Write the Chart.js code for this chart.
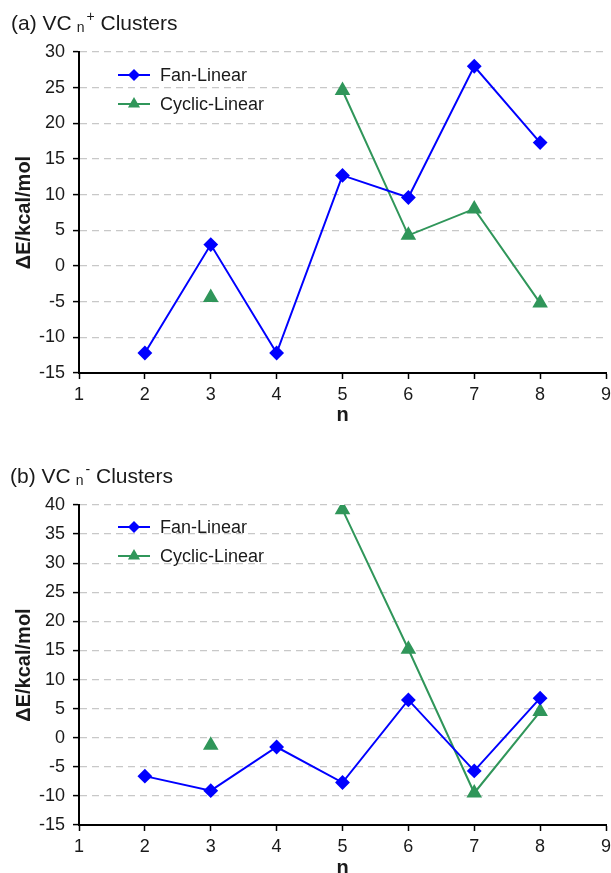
<!DOCTYPE html>
<html>
<head>
<meta charset="utf-8">
<title>VCn clusters</title>
<script src="https://cdn.jsdelivr.net/npm/chart.js@4/dist/chart.umd.min.js"></script>
<style>
  html, body { margin: 0; padding: 0; background: #fff; }
  body { position: relative; width: 611px; height: 873px; overflow: hidden;
         font-family: "Liberation Sans", Arial, sans-serif; color: #1a1a1a; }
  .panel { position: absolute; left: 0; width: 620px; }
  .panel canvas { display: block; }
  .ptitle { position: absolute; font-size: 21px; white-space: nowrap; line-height: 1; }
  .ptitle sub { font-size: 14px; vertical-align: -2px; margin-left: 5px; }
  .ptitle sup { font-size: 14px; vertical-align: 9px; margin-left: 2px; }
</style>
</head>
<body>
<div class="panel" style="top:0;height:436px;">
  <canvas id="chartA" width="620" height="436"></canvas>
</div>
<div class="panel" style="top:436px;height:450px;">
  <canvas id="chartB" width="620" height="450"></canvas>
</div>
<div class="ptitle" style="left:11px;top:9px;">(a) VC<sub>n</sub><sup>+</sup> Clusters</div>
<div class="ptitle" style="left:10px;top:462px;">(b) VC<sub>n</sub><sup>-</sup> Clusters</div>

<script>
// cluster size n
const nValues = [2, 3, 4, 5, 6, 7, 8];

// (a) cations, kcal/mol
const cationFan    = [-12.2, 3.0, -12.2, 12.7, 9.6, 28.0, 17.3];
const cationCyclic = [null, -4.4, null, 24.6, 4.3, 8.0, -5.2];

// (b) anions, kcal/mol
const anionFan    = [-6.6, -9.1, -1.6, -7.7, 6.5, -5.7, 6.8];
const anionCyclic = [null, -1.3, null, 39.2, 15.2, -9.5, 4.5];

const seriesNames = ["Fan-Linear", "Cyclic-Linear"];
const xTicks      = [1, 9];
const yTicksA     = [-15, 30];
const yTicksB     = [-15, 40];

(function () {
  "use strict";

  const FONT   = "'Liberation Sans', Arial, sans-serif";
  const BLUE   = "#0000ff";
  const GREEN  = "#30965a";
  const TEXT   = "#1a1a1a";

  Chart.defaults.font.family = FONT;
  Chart.defaults.color = TEXT;

  /* ------------------------------------------------------------------
   * Legend drawn inside the plot area
   * ------------------------------------------------------------------ */
  function _marker(ctx, style, x, y, r) {
    ctx.beginPath();
    if (style === "triangle") {
      ctx.moveTo(x, y - r);
      ctx.lineTo(x + r * 0.866, y + r * 0.5);
      ctx.lineTo(x - r * 0.866, y + r * 0.5);
    } else {
      ctx.moveTo(x, y - r);
      ctx.lineTo(x + r, y);
      ctx.lineTo(x, y + r);
      ctx.lineTo(x - r, y);
    }
    ctx.closePath();
    ctx.fill();
  }

  const insideLegend = {
    id: "insideLegend",
    afterDatasetsDraw: function (chart, args, opts) {
      const ctx = chart.ctx;
      chart.data.datasets.forEach(function (ds, i) {
        const y = opts.y + i * opts.gap;
        ctx.save();
        ctx.strokeStyle = ds.borderColor;
        ctx.lineWidth   = 2;
        ctx.beginPath();
        ctx.moveTo(opts.x, y);
        ctx.lineTo(opts.x + 32, y);
        ctx.stroke();
        ctx.fillStyle = ds.borderColor;
        _marker(ctx, ds.pointStyle, opts.x + 16, y, ds.pointStyle === "triangle" ? 7 : 6);
        ctx.fillStyle    = TEXT;
        ctx.font         = "18px " + FONT;
        ctx.textBaseline = "middle";
        ctx.fillText(ds.label, opts.x + 42, y + 1);
        ctx.restore();
      });
    },
  };

  /* ------------------------------------------------------------------
   * Chart builder
   * ------------------------------------------------------------------ */
  function _points(values) {
    return nValues.map(function (n, i) { return { x: n, y: values[i] }; });
  }

  function _dataset(label, values, color, style) {
    return {
      label:                label,
      data:                 _points(values),
      borderColor:          color,
      backgroundColor:      color,
      pointBackgroundColor: color,
      pointBorderColor:     color,
      pointStyle:           style,
      pointRadius:          style === "triangle" ? 7 : 6,
      borderWidth:          2,
      tension:              0,
      spanGaps:             false,
    };
  }

  function _build(canvasId, fan, cyclic, yRange, box) {
    return new Chart(document.getElementById(canvasId), {
      type: "line",
      data: {
        datasets: [
          _dataset(seriesNames[0], fan,    BLUE,  "rectRot"),
          _dataset(seriesNames[1], cyclic, GREEN, "triangle"),
        ],
      },
      plugins: [insideLegend],
      options: {
        responsive: false,
        animation:  false,
        // canvas is 620 wide and clipped at 611, so the plot ends at 606
        layout: { padding: { top: box.top, right: 14, left: 0, bottom: 0 } },
        plugins: {
          legend:  { display: false },
          tooltip: { enabled: false },
          insideLegend: { x: 118, y: box.legendY, gap: 29 },
        },
        scales: {
          x: {
            type: "linear",
            min:  xTicks[0],
            max:  xTicks[1],
            afterFit: function (scale) { scale.height = box.xHeight; },
            ticks: { stepSize: 1, padding: 5, color: TEXT, font: { size: 18 } },
            grid:  { drawOnChartArea: false, drawTicks: true, tickLength: 6,
                     tickColor: "#000", tickWidth: 1.5 },
            border: { color: "#000", width: 2 },
            title: { display: true, text: "n", color: TEXT,
                     font: { size: 20, weight: "bold" },
                     padding: { top: box.nPad, bottom: box.nPad } },
          },
          y: {
            min: yRange[0],
            max: yRange[1],
            afterFit: function (scale) { scale.width = 79; },
            ticks: { stepSize: 5, padding: 8, color: TEXT, font: { size: 18 } },
            grid:  { color: "#c8c8c8", lineWidth: 1.2, drawTicks: true, tickLength: 6,
                     tickColor: "#000", tickWidth: 1.5, tickBorderDash: [] },
            border: { color: "#000", width: 2, dash: [7, 5] },
            title: { display: true, text: "ΔE/kcal/mol", color: TEXT,
                     font: { size: 20, weight: "bold" },
                     padding: { top: 12, bottom: 12 } },
          },
        },
      },
    });
  }

  _build("chartA", cationFan, cationCyclic, yTicksA,
    { top: 52, xHeight: 63, legendY: 75, nPad: 9 });
  _build("chartB", anionFan, anionCyclic, yTicksB,
    { top: 69, xHeight: 61, legendY: 91, nPad: 6 });
}());
</script>
</body>
</html>
